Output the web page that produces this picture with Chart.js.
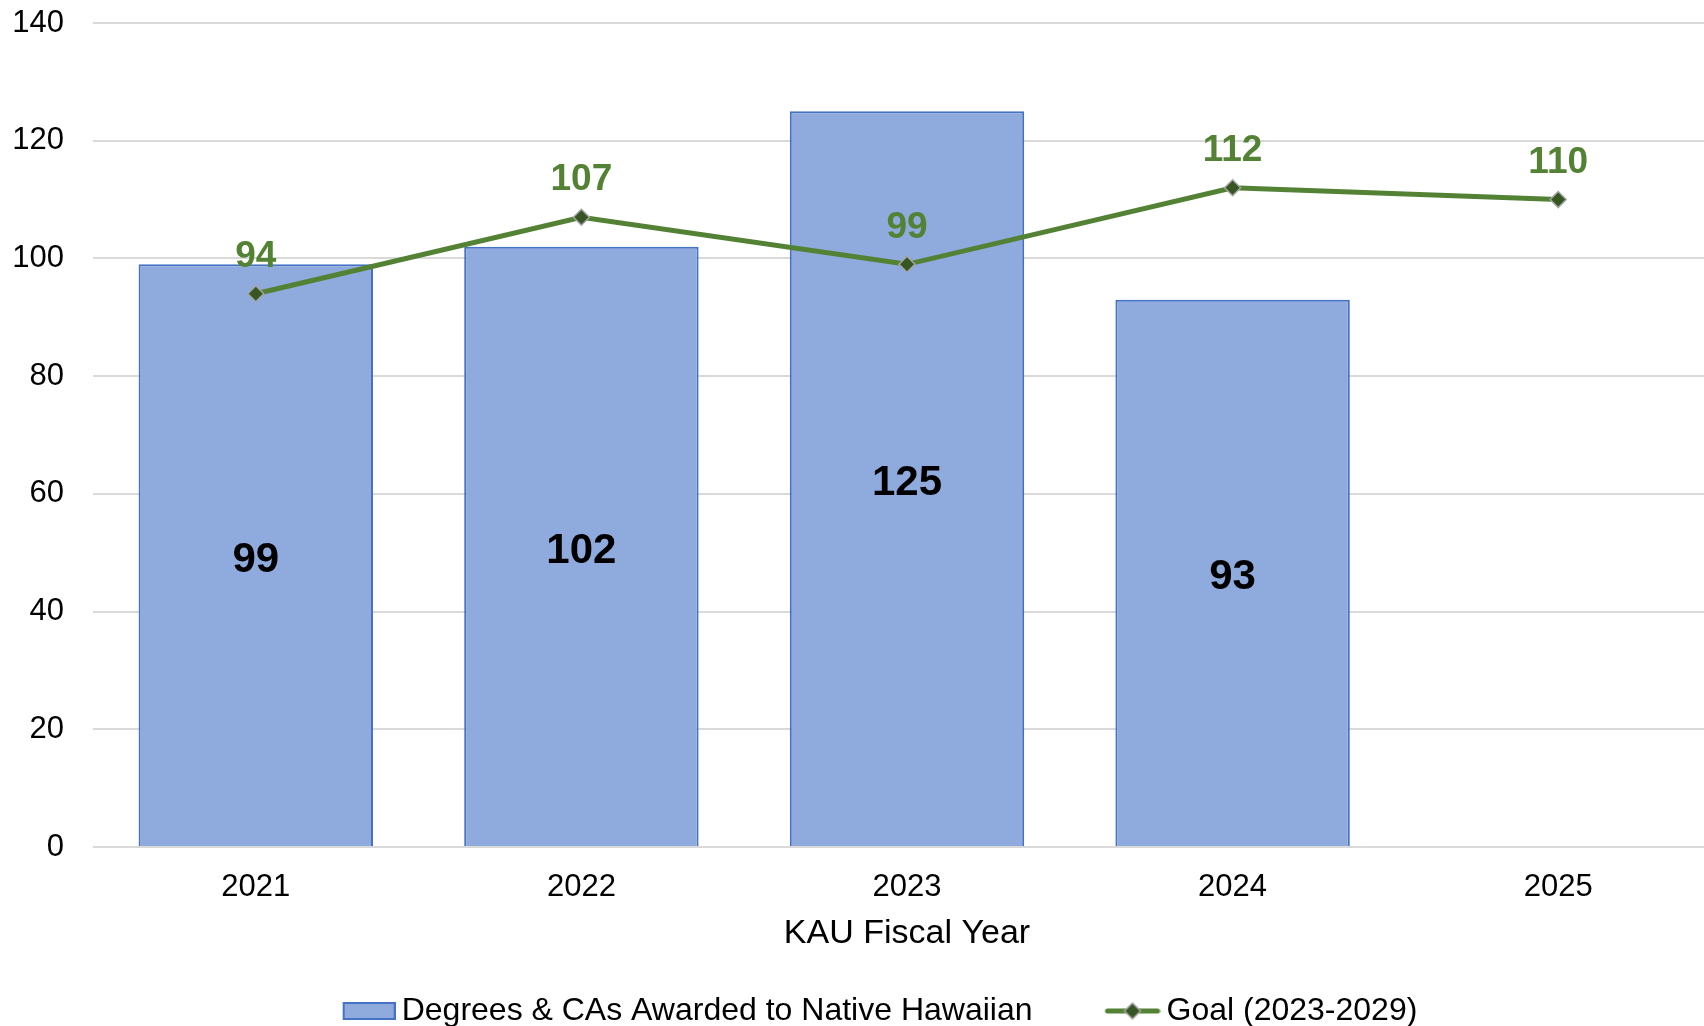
<!DOCTYPE html>
<html>
<head>
<meta charset="utf-8">
<script src="https://cdn.jsdelivr.net/npm/chart.js@4/dist/chart.umd.min.js"></script>
<style>
html,body{margin:0;padding:0;background:#fff;overflow:hidden;width:1704px;height:1026px;}
#wrap{position:absolute;left:0;top:0;width:1721px;height:1037px;}
</style>
</head>
<body>
<div id="wrap"><canvas id="c" width="1721" height="1037"></canvas></div>
<script>
const categories = ['2021', '2022', '2023', '2024', '2025'];
const awarded = [99, 102, 125, 93, null];
const goal = [94, 107, 99, 112, 110];
const yTicks = [0, 20, 40, 60, 80, 100, 120, 140];
const seriesNames = ['Degrees & CAs Awarded to Native Hawaiian', 'Goal (2023-2029)'];

const FONT = "'Liberation Sans', Arial, sans-serif";
const GREEN = '#548235';
const BAR_FILL = '#8FAADC';
const BAR_EDGE = '#4472C4';

function barIcon() {
  const c = document.createElement('canvas');
  c.width = 102; c.height = 20;
  const x = c.getContext('2d');
  x.fillStyle = BAR_FILL; x.fillRect(50, 2, 51, 16);
  x.strokeStyle = BAR_EDGE; x.lineWidth = 2; x.strokeRect(50, 2, 51, 16);
  return c;
}
function lineIcon() {
  const c = document.createElement('canvas');
  c.width = 102; c.height = 22;
  const x = c.getContext('2d');
  x.strokeStyle = GREEN; x.lineWidth = 5; x.lineCap = 'round';
  x.beginPath(); x.moveTo(49, 11); x.lineTo(99, 11); x.stroke();
  x.beginPath(); x.moveTo(74, 3); x.lineTo(82, 11); x.lineTo(74, 19); x.lineTo(66, 11); x.closePath();
  x.fillStyle = '#375623'; x.fill();
  x.strokeStyle = '#A5A5A5'; x.lineWidth = 1.5; x.stroke();
  return c;
}

const valueLabels = {
  id: 'valueLabels',
  afterDatasetsDraw(chart) {
    const ctx = chart.ctx;
    ctx.save();
    ctx.textAlign = 'center';
    ctx.textBaseline = 'middle';
    const barMeta = chart.getDatasetMeta(0);
    ctx.font = 'bold 42px ' + FONT;
    ctx.fillStyle = '#000';
    barMeta.data.forEach((el, i) => {
      const v = awarded[i];
      if (v == null) return;
      const mid = (el.y + el.base) / 2;
      ctx.fillText(String(v), el.x, mid + 5);
    });
    const lineMeta = chart.getDatasetMeta(1);
    ctx.font = 'bold 37px ' + FONT;
    ctx.fillStyle = GREEN;
    lineMeta.data.forEach((el, i) => {
      ctx.fillText(String(goal[i]), el.x, el.y - 37);
    });
    ctx.restore();
  }
};

const icons = [barIcon(), lineIcon()];

new Chart(document.getElementById('c'), {
  type: 'bar',
  data: {
    labels: categories,
    datasets: [
      {
        type: 'bar',
        label: seriesNames[0],
        data: awarded,
        backgroundColor: BAR_FILL,
        borderColor: BAR_EDGE,
        borderWidth: 2,
        barPercentage: 0.72,
        categoryPercentage: 1.0,
        order: 2
      },
      {
        type: 'line',
        label: seriesNames[1],
        data: goal,
        borderColor: GREEN,
        borderWidth: 5,
        pointStyle: 'rectRot',
        pointRadius: 8,
        pointBackgroundColor: '#375623',
        pointBorderColor: '#A5A5A5',
        pointBorderWidth: 1.5,
        tension: 0,
        order: 1
      }
    ]
  },
  options: {
    responsive: false,
    animation: false,
    devicePixelRatio: 1,
    layout: { autoPadding: false, padding: { top: 23, left: 0, right: 0, bottom: 0 } },
    plugins: {
      tooltip: { enabled: false },
      legend: {
        position: 'bottom',
        labels: {
          font: { family: FONT, size: 32 },
          color: '#000',
          usePointStyle: true,
          pointStyleWidth: 82,
          boxHeight: 20,
          padding: 36,
          generateLabels: () => seriesNames.map((n, i) => ({
            text: n, pointStyle: icons[i], fillStyle: 'transparent',
            strokeStyle: 'transparent', lineWidth: 0, datasetIndex: i, hidden: false
          }))
        }
      }
    },
    scales: {
      x: {
        afterFit: (s) => { s.height = 112; },
        grid: { display: false, drawTicks: false },
        border: { display: false },
        ticks: { font: { family: FONT, size: 31 }, color: '#000', padding: 22 },
        title: { display: true, text: 'KAU Fiscal Year', font: { family: FONT, size: 34 }, color: '#000', padding: { top: 0, bottom: 5 } }
      },
      y: {
        min: 0, max: 140,
        afterFit: (s) => { s.width = 93; s.paddingTop = 0; s.paddingBottom = 0; },
        afterBuildTicks: (s) => { s.ticks = yTicks.map(v => ({ value: v })); },
        grid: { color: '#D9D9D9', lineWidth: 2, drawTicks: false },
        border: { display: false },
        ticks: { font: { family: FONT, size: 31 }, color: '#000', padding: 29 }
      }
    }
  },
  plugins: [valueLabels]
});
</script>
</body>
</html>
